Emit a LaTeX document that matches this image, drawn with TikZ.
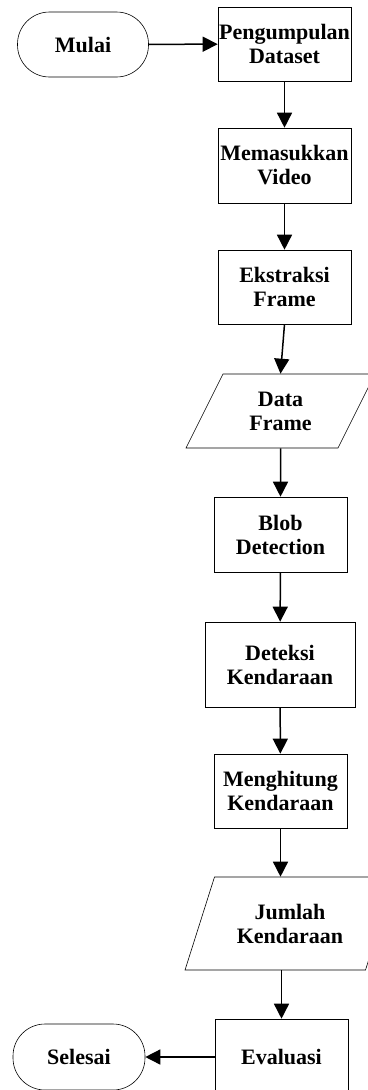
\documentclass[tikz,border=0pt]{standalone}
\usepackage{fontspec}
\setmainfont{Liberation Serif}
\usetikzlibrary{arrows.meta,shapes.geometric}

\begin{document}
\begin{tikzpicture}[x=1pt,y=-1pt,
		proses/.style = {draw, line width=0.6pt, minimum width=133pt, minimum height=74pt, align=center, inner sep=1pt, font=\bfseries\fontsize{22}{24}\selectfont},
		terminal/.style = {proses, minimum width=131pt, minimum height=65pt, rounded corners=32pt},
		dataio/.style = {proses, trapezium, trapezium left angle=63, trapezium right angle=117, trapezium stretches=true, minimum width=189pt},
		panah/.style = {-{Triangle[length=15pt,width=15pt]}, line width=1.5pt}]
		\useasboundingbox (0,0) rectangle (367,1090);
		\node[terminal] (mulai) at (83,44.5) {Mulai};
		\node[proses] (kumpul) at (284.5,44) {Pengumpulan\\Dataset};
		\node[proses, minimum height=75pt] (video) at (284.5,165.5) {Memasukkan\\Video};
		\node[proses] (ekstraksi) at (284.5,287) {Ekstraksi\\Frame};
		\node[dataio] (frame) at (280.5,411) {Data\\Frame};
		\node[proses, minimum height=75pt] (blob) at (280.5,534.5) {Blob\\Detection};
		\node[proses, minimum width=150pt, minimum height=85pt] (deteksi) at (280,664.5) {Deteksi\\Kendaraan};
		\node[proses] (hitung) at (280.5,791) {Menghitung\\Kendaraan};
		\node[dataio, minimum width=210pt, minimum height=93pt] (jumlah) at (290,923.5) {Jumlah\\Kendaraan};
		\node[proses, minimum height=76pt] (evaluasi) at (281.5,1057) {Evaluasi};
		\node[terminal, minimum width=132pt, minimum height=66pt] (selesai) at (79,1057) {Selesai};
		\draw[panah] (mulai) -- (kumpul);
		\draw[panah] (kumpul) -- (video);
		\draw[panah] (video) -- (ekstraksi);
		\draw[panah] (ekstraksi.south) -- (frame.north);
		\draw[panah] (frame) -- (blob);
		\draw[panah] (blob) -- (deteksi);
		\draw[panah] (deteksi) -- (hitung);
		\draw[panah] (hitung.south) -- (hitung.south |- jumlah.north);
		\draw[panah] (evaluasi.north |- jumlah.south) -- (evaluasi.north);
		\draw[panah] (evaluasi) -- (selesai);
	\end{tikzpicture}
\end{document}
